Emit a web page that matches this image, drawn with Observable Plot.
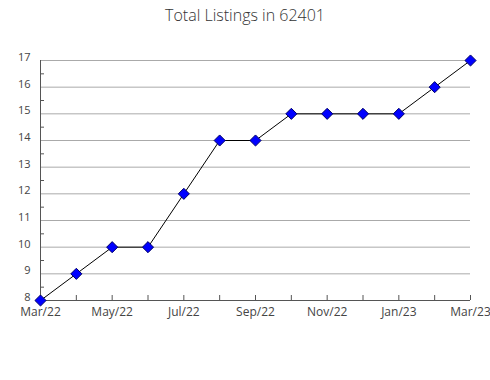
<!DOCTYPE html>
<html>
<head>
<meta charset="utf-8">
<script src="https://cdn.jsdelivr.net/npm/d3@7"></script>
<script src="https://cdn.jsdelivr.net/npm/@observablehq/plot@0.6"></script>
<style>
  body { margin: 0; background: #fff; }
  #title { width: 490px; height: 30px; text-align: center; font-family: "Open Sans", sans-serif; font-weight: 300; font-size: 16px; color: #333; line-height: 30px; }
</style>
</head>
<body>
<div id="title">Total Listings in 62401</div>
<div id="chart"></div>
<script>
const months = ["Mar/22","Apr/22","May/22","Jun/22","Jul/22","Aug/22","Sep/22","Oct/22","Nov/22","Dec/22","Jan/23","Feb/23","Mar/23"];
const listings = [8, 9, 10, 10, 12, 14, 14, 15, 15, 15, 15, 16, 17];
const yTicks = [8, 9, 10, 11, 12, 13, 14, 15, 16, 17];
const yMinorTicks = [8.5, 9.5, 10.5, 11.5, 12.5, 13.5, 14.5, 15.5, 16.5];
const xLabels = ["Mar/22","May/22","Jul/22","Sep/22","Nov/22","Jan/23","Mar/23"];

const data = months.map((m, i) => ({month: m, value: listings[i]}));

const chart = Plot.plot({
  width: 490,
  height: 350,
  marginLeft: 40,
  marginRight: 20,
  marginTop: 30,
  marginBottom: 80,
  style: {fontFamily: "'Open Sans', sans-serif", fontSize: "12px", color: "#444", background: "#fff"},
  x: {type: "point", domain: months, padding: 0, round: false, label: null},
  y: {domain: [8, 17], label: null},
  marks: [
    Plot.ruleY(yTicks.slice(1), {stroke: "#aaa", strokeWidth: 1, strokeOpacity: 1}),
    Plot.axisY(yTicks, {tickSize: 0, tickPadding: 10, dy: -3, label: null, fill: "#444", fontSize: 11}),
    Plot.axisY(yMinorTicks, {tickSize: -4, tickFormat: () => "", label: null, stroke: "#555"}),
    Plot.axisX(months, {tickSize: -5, tickFormat: () => "", label: null, stroke: "#555"}),
    Plot.axisX(xLabels, {tickSize: 0, tickPadding: 7, label: null, fill: "#444", fontSize: 12}),
    Plot.ruleY([8], {stroke: "#555", strokeWidth: 1}),
    Plot.ruleX([months[0]], {stroke: "#555", strokeWidth: 1}),
    Plot.line(data, {x: "month", y: "value", stroke: "#000", strokeWidth: 1}),
    Plot.dot(data, {x: "month", y: "value", symbol: "diamond2", r: 5, fill: "#0000ff", stroke: "#000066", strokeWidth: 1})
  ]
});
document.getElementById("chart").appendChild(chart);
</script>
</body>
</html>
